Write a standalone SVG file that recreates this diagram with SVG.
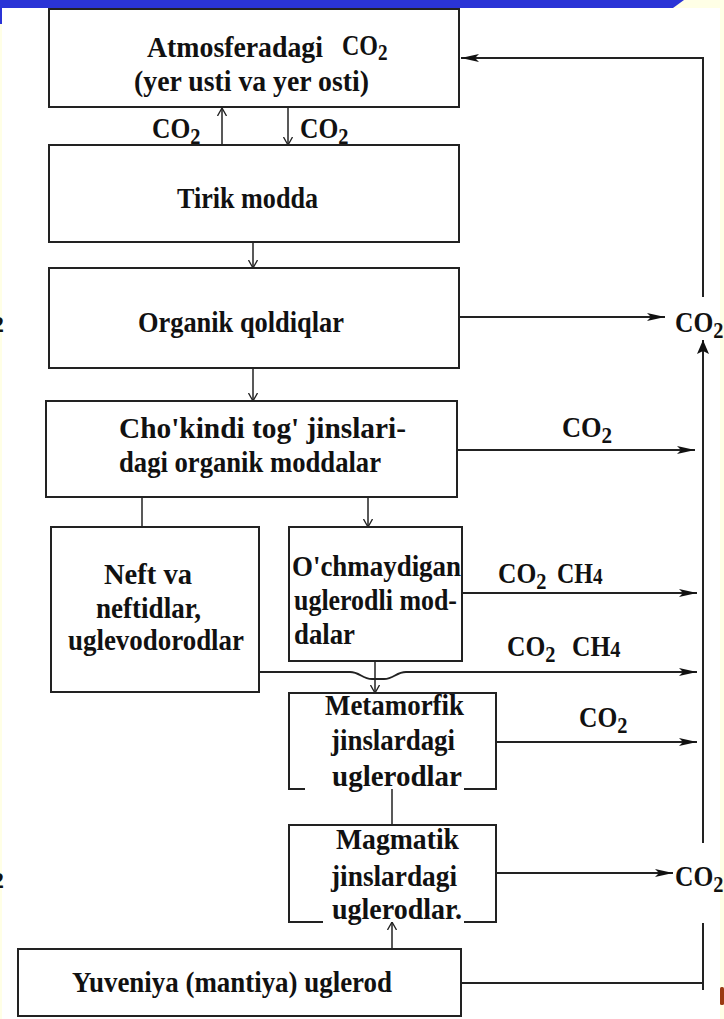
<svg xmlns="http://www.w3.org/2000/svg" width="724" height="1019" viewBox="0 0 724 1019">
<style>
.bx{fill:#fff;stroke:#222;stroke-width:2}
.ln{fill:none;stroke:#222;stroke-width:2}
.lt{fill:none;stroke:#222;stroke-width:1.5}
.t{font-family:"Liberation Serif","Times New Roman",serif;font-size:30px;font-weight:bold;fill:#111}
.s{font-family:"Liberation Serif","Times New Roman",serif;font-size:24px;font-weight:bold;fill:#111}
</style>
<defs>
<marker id="fa" markerUnits="userSpaceOnUse" markerWidth="18" markerHeight="10" refX="18" refY="5" orient="auto" viewBox="0 0 18 10">
<path d="M0,1 L18,5 L0,9 L4,5 z" fill="#111"/>
</marker>
<marker id="fu" markerUnits="userSpaceOnUse" markerWidth="14" markerHeight="12" refX="14" refY="6" orient="auto" viewBox="0 0 14 12">
<path d="M0,0 L14,6 L0,12 L3,6 z" fill="#111"/>
</marker>
<marker id="oa" markerUnits="userSpaceOnUse" markerWidth="9" markerHeight="10" refX="8" refY="5" orient="auto" viewBox="0 0 9 10">
<path d="M0,0.5 L8,5 L0,9.5" fill="none" stroke="#222" stroke-width="1.3"/>
</marker>
</defs>

<rect x="0" y="0" width="724" height="1019" fill="#ffffe6"/>
<rect x="2" y="8" width="718" height="1011" fill="#fff"/>
<polygon points="0,0 684,0 673,8 0,8" fill="#2a34d6"/>
<rect x="0" y="8" width="2" height="16" fill="#2a34d6"/>
<rect x="720" y="987" width="4" height="18" rx="1.5" fill="#9a3a12"/>
<text class="s" x="-8" y="332">2</text>
<text class="s" x="-8" y="888">2</text>

<g id="connectors">
<line class="lt" x1="222" y1="145" x2="222" y2="108" marker-end="url(#oa)"/>
<line class="lt" x1="288" y1="108" x2="288" y2="145" marker-end="url(#oa)"/>
<line class="lt" x1="253" y1="242" x2="253" y2="268" marker-end="url(#oa)"/>
<line class="lt" x1="253" y1="368" x2="253" y2="401" marker-end="url(#oa)"/>
<line class="lt" x1="142" y1="497" x2="142" y2="527"/>
<line class="lt" x1="368" y1="497" x2="368" y2="527" marker-end="url(#oa)"/>
<line class="lt" x1="375" y1="661" x2="375" y2="693" marker-end="url(#oa)"/>
<line class="lt" x1="392" y1="789" x2="392" y2="825"/>
<line class="lt" x1="392" y1="949" x2="392" y2="922" marker-end="url(#oa)"/>

<line class="ln" x1="459" y1="317" x2="665" y2="317" marker-end="url(#fa)"/>
<line class="ln" x1="457" y1="450" x2="695" y2="450" marker-end="url(#fa)"/>
<line class="ln" x1="462" y1="593" x2="697" y2="593" marker-end="url(#fa)"/>
<path class="ln" d="M259,672 L350,672 C360,672 362,679 372,679 L384,679 C394,679 396,672 406,672 L697,672" marker-end="url(#fa)"/>
<line class="ln" x1="496" y1="742" x2="697" y2="742" marker-end="url(#fa)"/>
<line class="ln" x1="496" y1="873" x2="673" y2="873" marker-end="url(#fa)"/>

<polyline class="ln" points="703,297 703,58 461,58" marker-end="url(#fa)"/>
<line class="ln" x1="703" y1="843" x2="703" y2="340" marker-end="url(#fu)"/>
<polyline class="ln" points="461,983 703,983"/>
<line class="ln" x1="703" y1="923" x2="703" y2="990"/>

<text class="t" transform="translate(152,138) scale(0.85,1)">CO<tspan class="s" dy="6">2</tspan></text>
<text class="t" transform="translate(300,138) scale(0.85,1)">CO<tspan class="s" dy="6">2</tspan></text>
<text class="t" transform="translate(675,332) scale(0.85,1)">CO<tspan class="s" dy="6">2</tspan></text>
<text class="t" transform="translate(562,437) scale(0.88,1)">CO<tspan class="s" dy="6">2</tspan></text>
<text class="t" transform="translate(498,583) scale(0.85,1)">CO<tspan class="s" dy="6">2</tspan></text>
<text class="t" transform="translate(557,583) scale(0.8,1)">CH<tspan class="s" dy="1">4</tspan></text>
<text class="t" transform="translate(507,656) scale(0.85,1)">CO<tspan class="s" dy="6">2</tspan></text>
<text class="t" transform="translate(572,656) scale(0.85,1)">CH<tspan class="s" dy="1">4</tspan></text>
<text class="t" transform="translate(579,727) scale(0.85,1)">CO<tspan class="s" dy="6">2</tspan></text>
<text class="t" transform="translate(675,886) scale(0.85,1)">CO<tspan class="s" dy="6">2</tspan></text>
</g>

<g id="n1">
<rect class="bx" x="49" y="9" width="410" height="98"/>
<text class="t" x="147" y="57" textLength="176" lengthAdjust="spacingAndGlyphs">Atmosferadagi</text>
<text class="t" transform="translate(342,55) scale(0.8,1)" font-weight="normal">CO<tspan class="s" dy="5" font-size="21">2</tspan></text>
<text class="t" x="134" y="91" textLength="235" lengthAdjust="spacingAndGlyphs">(yer usti va yer osti)</text>
</g>
<g id="n2">
<rect class="bx" x="49" y="145" width="410" height="97"/>
<text class="t" x="177" y="208" textLength="141" lengthAdjust="spacingAndGlyphs">Tirik modda</text>
</g>
<g id="n3">
<rect class="bx" x="49" y="268" width="410" height="100"/>
<text class="t" x="138" y="332" textLength="206" lengthAdjust="spacingAndGlyphs">Organik qoldiqlar</text>
</g>
<g id="n4">
<rect class="bx" x="46" y="401" width="411" height="96"/>
<text class="t" x="119" y="438" textLength="287" lengthAdjust="spacingAndGlyphs">Cho'kindi tog' jinslari-</text>
<text class="t" x="119" y="472" textLength="262" lengthAdjust="spacingAndGlyphs">dagi organik moddalar</text>
</g>
<g id="n5">
<rect class="bx" x="51" y="527" width="208" height="165"/>
<text class="t" x="104" y="584" textLength="88" lengthAdjust="spacingAndGlyphs">Neft va</text>
<text class="t" x="96" y="618" textLength="105" lengthAdjust="spacingAndGlyphs">neftidlar,</text>
<text class="t" x="68" y="650" textLength="176" lengthAdjust="spacingAndGlyphs">uglevodorodlar</text>
</g>
<g id="n6">
<rect class="bx" x="289" y="527" width="173" height="134"/>
<text class="t" x="292" y="576" textLength="169" lengthAdjust="spacingAndGlyphs">O'chmaydigan</text>
<text class="t" x="294" y="610" textLength="163" lengthAdjust="spacingAndGlyphs">uglerodli mod-</text>
<text class="t" x="294" y="644" textLength="61" lengthAdjust="spacingAndGlyphs">dalar</text>
</g>
<g id="n7">
<path class="bx" d="M305,789 L289,789 L289,693 L496,693 L496,789 L464,789"/>
<text class="t" x="325" y="715" textLength="139" lengthAdjust="spacingAndGlyphs">Metamorfik</text>
<text class="t" x="331" y="750" textLength="124" lengthAdjust="spacingAndGlyphs">jinslardagi</text>
<text class="t" x="332" y="786" textLength="130" lengthAdjust="spacingAndGlyphs">uglerodlar</text>
</g>
<g id="n8">
<path class="bx" d="M323,922 L289,922 L289,825 L496,825 L496,922 L464,922"/>
<text class="t" x="336" y="849" textLength="123" lengthAdjust="spacingAndGlyphs">Magmatik</text>
<text class="t" x="331" y="886" textLength="126" lengthAdjust="spacingAndGlyphs">jinslardagi</text>
<text class="t" x="332" y="919" textLength="130" lengthAdjust="spacingAndGlyphs">uglerodlar.</text>
</g>
<g id="n9">
<rect class="bx" x="18" y="949" width="443" height="67"/>
<text class="t" x="72" y="992" textLength="320" lengthAdjust="spacingAndGlyphs">Yuveniya (mantiya) uglerod</text>
</g>
</svg>
